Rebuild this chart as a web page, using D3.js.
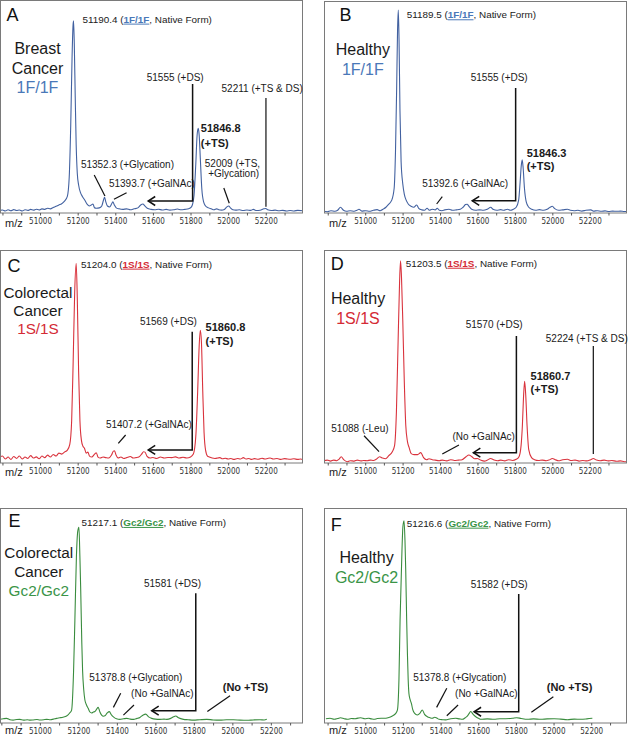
<!DOCTYPE html>
<html><head><meta charset="utf-8">
<script src="https://cdn.jsdelivr.net/npm/d3@7/dist/d3.min.js"></script>
<style>
body{margin:0;background:#fff;}
svg text{font-family:"Liberation Sans",Arial,Helvetica,sans-serif;}
</style></head><body>
<svg id="chart" width="628" height="737"></svg>
<script>
// ---------- DATA (m/z, relative intensity % of base peak) ----------
const specA = [[50783,0.6],[50800,0.9],[50815,0.4],[50830,1],[50845,0.5],[50860,1.1],[50875,0.6],[50890,0.9],[50905,0.4],[50920,1],[50935,0.7],[50950,1.2],[50965,0.8],[50980,1.3],[50995,0.9],[51010,1.5],[51025,1.2],[51040,1.8],[51055,1.5],[51070,2.2],[51085,2.8],[51100,3.5],[51115,4.2],[51130,5.5],[51145,8],[51155,18],[51163,45],[51170,80],[51175,97],[51178,100],[51182,88],[51187,60],[51192,35],[51198,20],[51205,14],[51215,10],[51225,8],[51238,6],[51250,4],[51262,3],[51272,3.5],[51281,4],[51290,2],[51300,1.8],[51315,2],[51328,3],[51337,6],[51343,7.5],[51350,5],[51358,3],[51370,2.5],[51380,4],[51387,5.2],[51395,3.5],[51405,2],[51420,1.5],[51440,1.2],[51460,1.5],[51480,1],[51500,1.5],[51520,2],[51535,3.5],[51547,4],[51557,3],[51570,1.8],[51590,1.2],[51610,1],[51630,1.3],[51650,0.9],[51670,1.2],[51690,0.8],[51710,1],[51730,1.4],[51750,1],[51770,1.2],[51790,1.5],[51805,2.5],[51818,8],[51828,25],[51835,40],[51841,43.6],[51846,40],[51852,28],[51860,12],[51870,5],[51880,3],[51895,2],[51910,1.5],[51925,1],[51939,1.5],[51950,1],[51965,0.8],[51980,1.2],[51993,2.5],[52003,3],[52012,2],[52025,1],[52040,0.8],[52060,1],[52080,0.6],[52100,0.9],[52120,0.7],[52134,1.2],[52150,0.6],[52170,0.8],[52190,1.5],[52200,1.7],[52210,1],[52230,0.6],[52250,0.8],[52270,0.5],[52290,0.7],[52310,0.4],[52330,0.6],[52350,0.4],[52370,0.7],[52399,0.5]];

const specB = [[50780,0.5],[50797,0.3],[50817,0.8],[50838,0.5],[50853,1],[50868,2.5],[50884,1],[50900,0.5],[50920,0.8],[50941,0.5],[50956,1],[50967,1.5],[50982,0.6],[51003,0.8],[51023,0.5],[51044,1],[51064,1.3],[51080,0.8],[51095,1.5],[51111,2.5],[51126,4],[51142,6],[51155,12],[51162,30],[51168,60],[51173,90],[51177,100],[51181,85],[51186,50],[51192,25],[51201,14],[51209,9],[51219,6],[51231,4],[51245,3],[51260,2.5],[51275,3.6],[51286,2],[51302,1.2],[51317,1],[51331,2],[51343,1],[51358,1.5],[51374,1.2],[51385,2],[51396,1],[51410,0.8],[51425,1.2],[51448,1.5],[51466,1],[51487,1.2],[51508,1.5],[51523,2.5],[51536,3.8],[51545,4],[51554,3],[51569,1.5],[51590,1],[51611,1.2],[51631,1],[51652,1.5],[51671,2.5],[51683,1.5],[51704,1],[51724,1.3],[51740,1],[51760,1.5],[51776,1],[51791,1.5],[51807,2.5],[51820,6],[51828,15],[51834,23],[51839,26],[51844,22],[51851,12],[51861,5],[51874,2.5],[51890,1.5],[51911,1],[51931,1.3],[51952,1],[51972,1.5],[51988,2.5],[52000,3],[52013,1.8],[52034,1],[52055,1.2],[52081,1.5],[52096,1],[52117,0.8],[52137,1],[52158,0.6],[52179,1],[52206,1.2],[52220,0.6],[52240,0.8],[52261,0.5],[52282,0.7],[52302,0.4],[52323,0.6],[52343,0.5],[52364,0.6],[52384,0.4],[52399,0.5]];

const specC = [[50783,1],[50800,2],[50815,0.5],[50830,1.5],[50845,0.3],[50860,1.8],[50875,0.8],[50890,2],[50905,0.5],[50920,1.5],[50935,0.8],[50950,2.2],[50965,1],[50980,1.6],[50995,0.6],[51010,2],[51025,1.2],[51040,2.5],[51055,1.5],[51070,2.8],[51085,2],[51100,3.5],[51115,3],[51130,4],[51145,5],[51158,8],[51168,20],[51176,50],[51184,85],[51192,100],[51198,82],[51205,45],[51212,20],[51220,10],[51228,7],[51236,6],[51245,3.5],[51254,4],[51263,2],[51275,1.5],[51290,3],[51299,3.7],[51308,1.5],[51320,1],[51335,1.5],[51350,1.2],[51365,1],[51380,2.5],[51390,4.5],[51396,4.7],[51404,2.5],[51415,1],[51430,1.5],[51445,0.8],[51460,1.2],[51480,1.8],[51495,1],[51510,1.2],[51525,1.5],[51540,3],[51550,4.2],[51558,4],[51568,2],[51585,1],[51600,1.3],[51620,0.8],[51640,1.5],[51660,1],[51680,1.3],[51700,1.2],[51720,1.6],[51740,1],[51760,1.4],[51780,1],[51800,1.5],[51815,3],[51828,12],[51838,35],[51846,58],[51852,66],[51858,60],[51865,35],[51872,14],[51880,5],[51890,2],[51900,1.5],[51915,1],[51930,0.8],[51945,1],[51956,1.2],[51970,0.6],[51985,0.9],[52000,0.5],[52015,0.8],[52030,0.3],[52050,0.8],[52065,0.5],[52081,1.2],[52095,0.5],[52110,0.8],[52125,0.3],[52140,0.7],[52160,0.4],[52180,0.9],[52195,0.5],[52210,0.8],[52223,1],[52240,0.5],[52260,0.8],[52280,0.3],[52300,0.7],[52315,0.5],[52330,0.4],[52350,0.6],[52370,0.3],[52385,0.5],[52399,0.2]];

const specD = [[50780,0.5],[50797,0.8],[50815,0.3],[50832,0.8],[50848,0.5],[50860,1.2],[50872,2.5],[50885,1],[50905,0],[50920,0.5],[50941,0.3],[50958,0.8],[50977,0.4],[50992,0.6],[51011,0.5],[51028,0.8],[51044,0.6],[51059,1.2],[51077,2.5],[51093,1.8],[51109,1.5],[51126,3],[51145,5],[51157,8],[51167,25],[51176,60],[51184,90],[51189,100],[51194,92],[51201,70],[51209,40],[51217,18],[51226,10],[51235,7],[51246,4],[51261,3.5],[51280,3.5],[51297,4.5],[51312,2],[51328,1],[51341,1.5],[51359,1],[51374,0.8],[51395,0.5],[51412,0.8],[51436,0.4],[51457,1],[51477,0.6],[51498,0.8],[51518,1],[51539,2.5],[51554,3.3],[51570,2.5],[51585,1.5],[51599,1.6],[51617,0.8],[51637,0.3],[51653,0.8],[51670,1.6],[51689,0.8],[51709,0.5],[51725,0.8],[51746,0.4],[51766,1],[51787,0.6],[51807,1.2],[51822,2.5],[51833,8],[51840,18],[51846,32],[51852,40],[51858,33],[51865,18],[51874,6],[51889,2],[51905,1],[51926,0.6],[51946,0.8],[51967,0.5],[51982,0.8],[52000,1.6],[52018,0.9],[52034,0.5],[52055,1],[52081,1.2],[52101,0.6],[52122,0.8],[52143,0.3],[52163,0.6],[52184,0.4],[52205,1],[52219,1.6],[52236,0.8],[52256,0.5],[52277,0.8],[52298,0.4],[52318,0.6],[52343,0.2],[52364,0.4],[52385,0],[52399,0]];

const specE = [[50792,0.7],[50810,1],[50827,1.2],[50845,0.5],[50861,0.3],[50880,0.6],[50896,0.7],[50915,0.3],[50935,0.5],[50950,0.3],[50965,0.4],[50985,0.6],[51000,0.4],[51020,0.5],[51035,0.7],[51055,0.5],[51070,0.8],[51087,1.2],[51104,1.5],[51120,1.8],[51139,2.4],[51155,4],[51165,5.5],[51175,25],[51182,52],[51190,85],[51197,98],[51203,100],[51208,85],[51212,69],[51218,40],[51222,26],[51228,16],[51234,10.7],[51243,8],[51251,6.4],[51260,4.5],[51269,4],[51278,4.5],[51286,4.7],[51295,6],[51303,6.9],[51312,4.5],[51321,2.9],[51330,2.3],[51338,2.5],[51350,4],[51361,4.7],[51372,3],[51382,2],[51398,1],[51416,0.7],[51435,1],[51451,1.2],[51470,0.8],[51486,0.7],[51505,1.2],[51520,1.7],[51537,3],[51550,3.4],[51565,2],[51581,1.2],[51600,0.8],[51624,0.7],[51645,0.8],[51660,0.7],[51680,1.2],[51695,2],[51706,2.4],[51720,1.5],[51746,0.7],[51770,0.5],[51798,0.3],[51830,0.5],[51867,0.7],[51900,0.4],[51936,0.3],[51970,0.5],[52006,0.5],[52040,0.3],[52075,0.2],[52110,0.4],[52144,0.5],[52165,0.4],[52179,0.7]];

const specF = [[50791,0.3],[50813,0.5],[50835,0],[50854,0.4],[50869,0.8],[50888,0.3],[50905,0],[50926,0.4],[50946,0.3],[50962,0.6],[50976,0.8],[50998,0.3],[51018,0.5],[51033,0.2],[51047,0],[51064,0.4],[51085,0.5],[51100,0.5],[51121,0.8],[51144,1.7],[51162,3],[51171,4.7],[51179,20],[51185,50],[51195,85],[51200,97],[51206,100],[51211,90],[51215,75],[51220,50],[51224,33],[51228,20],[51232,13],[51238,10],[51245,8],[51252,5],[51259,3.4],[51268,2.5],[51277,2.2],[51290,3],[51303,4.7],[51315,2.5],[51330,1.3],[51344,0.8],[51356,0.5],[51369,1],[51380,0.6],[51392,0],[51411,-0.2],[51427,-0.3],[51454,0.3],[51480,0.5],[51500,0.2],[51516,0],[51531,0.8],[51543,1.7],[51552,3],[51560,3.9],[51573,2.5],[51587,1.3],[51602,0.5],[51614,0],[51648,0.2],[51684,0],[51715,0.3],[51746,0.3],[51782,0.5],[51804,0.8],[51828,0.4],[51861,0],[51894,0.2],[51931,0],[51966,0.2],[52003,0.3],[52038,0.1],[52074,-0.2],[52110,0.1],[52145,0],[52177,0.2],[52206,0.5]];

const tickLabels = [51000,51200,51400,51600,51800,52000,52200];
const minorTicks = [50800,50900,51000,51100,51200,51300,51400,51500,51600,51700,51800,51900,52000,52100,52200,52300,52400];

const panelLetters = ["A","B","C","D","E","F"];
const groupLines = [["Breast","Cancer"],["Healthy"],["Colorectal","Cancer"],["Healthy"],["Colorectal","Cancer"],["Healthy"]];
const genotypes = ["1F/1F","1F/1F","1S/1S","1S/1S","Gc2/Gc2","Gc2/Gc2"];
const nativeMasses = ["51190.4","51189.5","51204.0","51203.5","51217.1","51216.6"];

// annotation texts: [m/z, %, text, bold]
const notesA = {native:[51226,99],
  texts:[[51567,68.4,"51555 (+DS)"],[51965,62.8,"52211 (+TS & DS)"],[51855,41.9,"51846.8",1],[51855,34,"(+TS)",1],
         [51876,23.6,"52009 (+TS,"],[51894,18,"+Glycation)"],[51217,22.7,"51352.3 (+Glycation)"],[51366,13.1,"51393.7 (+GalNAc)"]],
  leaders:[[52201,59.5,52201,2.6],[51977,12.4,52006,4.4],[51288,19.2,51345,8.2],[51393,6.5,51460,9.9]],
  arrows:[[51811,66.9,5.6,51575]]};
const notesB = {native:[51222,95.9],
  texts:[[51564,64.9,"51555 (+DS)"],[51863,27.5,"51846.3",1],[51863,20.9,"(+TS)",1],[51305,12.4,"51392.6 (+GalNAc)"]],
  leaders:[[51382,4.1,51412,7.7]],
  arrows:[[51804,61.4,5.7,51572]]};
const notesC = {native:[51217,97.8],
  texts:[[51531,68.6,"51569 (+DS)"],[51880,65.6,"51860.8",1],[51880,58.5,"(+TS)",1],[51350,16.1,"51407.2 (+GalNAc)"]],
  leaders:[[51416,8.5,51455,12.7]],
  arrows:[[51809,65.2,5.1,51575]]};
const notesD = {native:[51217,97],
  texts:[[51537,66.4,"51570 (+DS)"],[51965,59.7,"52224 (+TS & DS)"],[51884,40.6,"51860.7",1],[51884,34,"(+TS)",1],
         [50819,14.9,"51088 (-Leu)"],[51466,10.8,"(No +GalNAc)"]],
  leaders:[[52219,57.6,52219,3.8],[50994,12.9,51074,5],[51412,3.8,51501,8.3]],
  arrows:[[51808,62.5,4.5,51578]]};
const notesE = {native:[51217,100.7],
  texts:[[51541,69,"51581 (+DS)"],[51257,20.7,"51378.8 (+Glycation)"],[51474,12.1,"(No +GalNAc)"],[51950,15.5,"(No +TS)",1]],
  leaders:[[51382,6.9,51420,14.2],[51434,2.9,51489,8.1],[51870,4.7,51988,12.9]],
  arrows:[[51810,65.9,5.2,51581]]};
const notesF = {native:[51220,97],
  texts:[[51560,66,"51582 (+DS)"],[51255,19.4,"51378.8 (+Glycation)"],[51477,11.1,"(No +GalNAc)"],[51964,14.4,"(No +TS)",1]],
  leaders:[[51379,6,51433,15.6],[51433,1.8,51493,7.2],[51882,3.5,51999,11.4]],
  arrows:[[51815,63.1,3.8,51578]]};

// ---------- LAYOUT / STYLE ----------
const blue = {line:"#4261a0", text:"#4a78b8"};
const red = {line:"#d9333d", text:"#d42a35"};
const green = {line:"#3a8c3e", text:"#3a9447"};
const layout = [
  {box:[0.5,0.5,302.5,213], domain:[50787,52398], range:[0,303], yb:211.7, ya:20.7, letter:[6,20.5], grp:[37,53.5,19.5], gfs:16, c:blue, mz:14},
  {box:[324.5,1.5,626.5,213], domain:[50780,52399], range:[324,627], yb:212.3, ya:10, letter:[15,19.2], grp:[38.3,53.5,20], gfs:16, c:blue, mz:14},
  {box:[0.5,250.5,302.5,463], domain:[50787,52398], range:[0,303], yb:460, ya:263.3, letter:[7,21.2], grp:[37.5,47.2,18.3], gfs:15.3, c:red, mz:13},
  {box:[324.5,250.5,626.5,463], domain:[50780,52399], range:[324,627], yb:461.7, ya:260.7, letter:[6.2,19.5], grp:[33.5,53.5,20.3], gfs:16, c:red, mz:13},
  {box:[0.5,508.5,302.5,723], domain:[50793,52367], range:[0,303], yb:720.7, ya:527.3, letter:[8,18.2], grp:[38.3,49.8,18.8], gfs:15.3, c:green, mz:11},
  {box:[324.5,508.5,626.5,723], domain:[50781,52390], range:[324,627], yb:719.3, ya:520.7, letter:[6.2,22.2], grp:[42,54.8,20], gfs:16, c:green, mz:11}
];
const spectra = [specA,specB,specC,specD,specE,specF];
const notes = [notesA,notesB,notesC,notesD,notesE,notesF];

const svg = d3.select("#chart");
const defs = svg.append("defs");

layout.forEach((L,i)=>{
  const [bx0,by0,bx1,by1] = L.box;
  const x = d3.scaleLinear().domain(L.domain).range(L.range);
  const y = d3.scaleLinear().domain([0,100]).range([L.yb, L.ya]);
  const g = svg.append("g");
  const cid = "clip"+i;
  defs.append("clipPath").attr("id",cid).append("rect")
    .attr("x",bx0).attr("y",by0-12).attr("width",bx1-bx0).attr("height",by1-by0+12);

  // spectrum
  g.append("path").datum(spectra[i])
    .attr("clip-path",`url(#${cid})`)
    .attr("fill","none").attr("stroke",L.c.line).attr("stroke-width",1.1)
    .attr("stroke-linejoin","round")
    .attr("d", d3.line().x(d=>x(d[0])).y(d=>y(d[1])).curve(d3.curveMonotoneX));

  // frame
  g.append("rect").attr("x",bx0).attr("y",by0).attr("width",bx1-bx0).attr("height",by1-by0)
    .attr("fill","none").attr("stroke","#7a7a7a").attr("stroke-width",1);

  // axis ticks
  const dom = x.domain();
  const ax1 = g.append("g").attr("transform",`translate(0,${by1})`)
    .call(d3.axisBottom(x).tickValues(minorTicks.filter(v=>v>dom[0]&&v<dom[1])).tickSize(2.5).tickFormat(""));
  ax1.select(".domain").remove();
  ax1.selectAll("line").attr("stroke","#555");
  const ax2 = g.append("g").attr("transform",`translate(0,${by1})`)
    .call(d3.axisBottom(x).tickValues(tickLabels).tickSize(0).tickPadding(5).tickFormat(d3.format("d")));
  ax2.select(".domain").remove();
  ax2.selectAll("text").attr("font-size",8).attr("fill","#333")
    .style("font-family","'Liberation Sans Narrow','DejaVu Sans Condensed',Arial,sans-serif");

  g.append("text").attr("x",bx0+4.5).attr("y",by1+L.mz).attr("font-size",11).attr("fill","#222").text("m/z");

  // panel letter
  g.append("text").attr("x",bx0+L.letter[0]).attr("y",by0+L.letter[1]).attr("font-size",18).attr("fill","#111").text(panelLetters[i]);

  // group label
  const gl = groupLines[i].concat([genotypes[i]]);
  gl.forEach((t,k)=>{
    g.append("text").attr("x",bx0+L.grp[0]).attr("y",by0+L.grp[1]+k*L.grp[2])
      .attr("text-anchor","middle").attr("font-size",L.gfs)
      .attr("fill", k===gl.length-1 ? L.c.text : "#1a1a1a").text(t);
  });

  const N = notes[i];
  // native form label
  const nt = g.append("text").attr("x",x(N.native[0])).attr("y",y(N.native[1])).attr("font-size",9.9).attr("fill","#1a1a1a");
  nt.append("tspan").text(nativeMasses[i]+" (");
  nt.append("tspan").text(genotypes[i]).attr("font-weight","bold").attr("fill",L.c.text).attr("text-decoration","underline");
  nt.append("tspan").text(", Native Form)");

  N.texts.forEach(t=>{
    g.append("text").attr("x",x(t[0])).attr("y",y(t[1]))
      .attr("font-size", t[3]?11:10).attr("font-weight", t[3]?"bold":"normal")
      .attr("fill","#1a1a1a").text(t[2]);
  });
  N.leaders.forEach(l=>{
    g.append("line").attr("x1",x(l[0])).attr("y1",y(l[1])).attr("x2",x(l[2])).attr("y2",y(l[3]))
      .attr("stroke","#111").attr("stroke-width",1.2);
  });
  N.arrows.forEach(a=>{
    const lx = x(a[0]), top = y(a[1]), bot = y(a[2]), tip = x(a[3]);
    g.append("path").attr("d",`M${lx},${top}L${lx},${bot}L${tip},${bot}`)
      .attr("fill","none").attr("stroke","#111").attr("stroke-width",1.5);
    g.append("path").attr("d",`M${tip+7},${bot-4.5}L${tip},${bot}L${tip+7},${bot+4.5}`)
      .attr("fill","none").attr("stroke","#111").attr("stroke-width",1.5);
  });
});
</script>
</body></html>
